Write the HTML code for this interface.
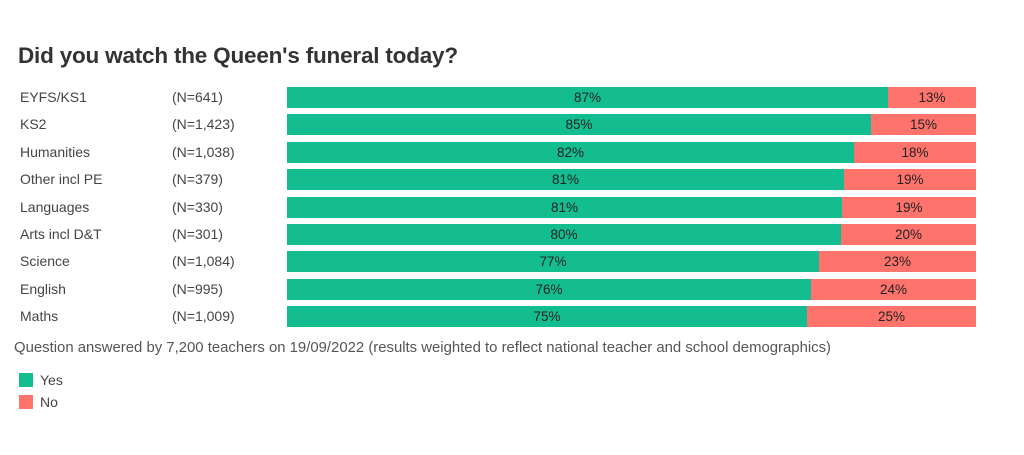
<!DOCTYPE html>
<html><head><meta charset="utf-8"><style>
body{margin:0;width:1024px;height:455px;background:#fff;font-family:"Liberation Sans",sans-serif;position:relative;overflow:hidden}
.t{position:absolute;left:18px;top:43px;font-size:22.5px;font-weight:bold;color:#333;letter-spacing:-0.2px}
.l{position:absolute;font-size:14px;color:#444;line-height:21px}
.b{position:absolute;height:21px;font-size:13.5px;color:#222;text-align:center;line-height:21px}
.g{background:#13bd8f}.r{background:#fe736b}
.f{position:absolute;left:14px;top:340px;font-size:14.9px;color:#555}
.sw{position:absolute;left:19px;width:14px;height:14px}
</style></head><body>
<div class="t">Did you watch the Queen's funeral today?</div>
<div id="c"></div>
<div class="f">Question answered by 7,200 teachers on 19/09/2022 (results weighted to reflect national teacher and school demographics)</div>
<div class="sw g" style="top:373px"></div><div class="l" style="left:40px;top:370px">Yes</div>
<div class="sw r" style="top:395px"></div><div class="l" style="left:40px;top:392px">No</div>
<script>
var d=[["EYFS/KS1","(N=641)",888,87],["KS2","(N=1,423)",871,85],["Humanities","(N=1,038)",854,82],["Other incl PE","(N=379)",844,81],["Languages","(N=330)",842,81],["Arts incl D&amp;T","(N=301)",841,80],["Science","(N=1,084)",819,77],["English","(N=995)",811,76],["Maths","(N=1,009)",807,75]];
var h="";d.forEach(function(r,i){var y=87+i*27.4;
h+='<div class="l" style="left:20px;top:'+y+'px">'+r[0]+'</div><div class="l" style="left:172px;top:'+y+'px">'+r[1]+'</div>';
h+='<div class="b g" style="left:287px;top:'+y+'px;width:'+(r[2]-287)+'px">'+r[3]+'%</div>';
h+='<div class="b r" style="left:'+r[2]+'px;top:'+y+'px;width:'+(976-r[2])+'px">'+(100-r[3])+'%</div>';});
document.getElementById("c").innerHTML=h;
</script>
</body></html>
